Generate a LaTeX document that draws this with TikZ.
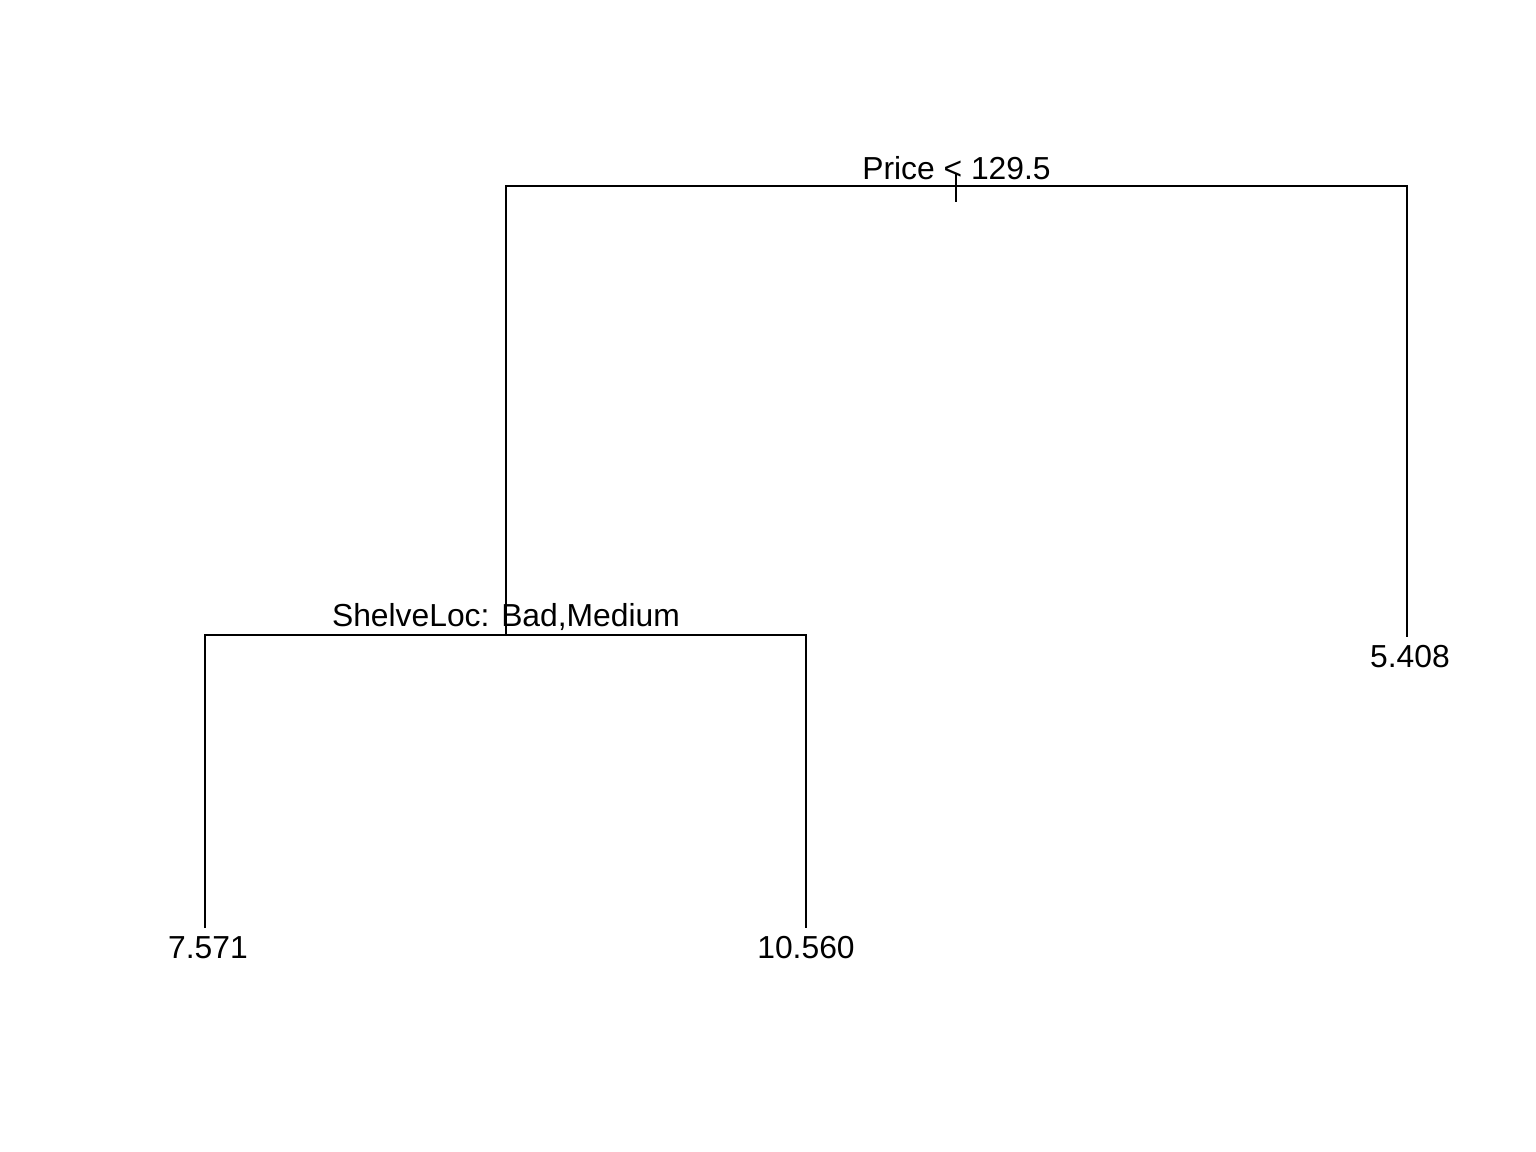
\documentclass[tikz,border=0pt]{standalone}
\usepackage{fontspec}
\setmainfont{Liberation Sans}
\usetikzlibrary{calc}

\begin{document}
\begin{tikzpicture}[x=0.01cm, y=-0.01cm,
        branch/.style={line width=0.6pt, line cap=butt},
        splitlabel/.style={anchor=base, inner sep=0pt, font=\fontsize{9.05}{11}\selectfont},
        leaflabel/.style={anchor=base, inner sep=0pt, font=\fontsize{9.05}{11}\selectfont}]

        % page frame
        \useasboundingbox (0,0) rectangle (1536,1152);

        % tree nodes
        \coordinate (root) at (956,186);
        \coordinate (shelve) at (506,635);
        \coordinate (leafbad) at (205,928);
        \coordinate (leafgood) at (806,928);
        \coordinate (leafprice) at (1407,637);

        % branches
        \draw[branch] (shelve) |- (root) -| (leafprice);
        \draw[branch] (leafbad) |- (shelve) -| (leafgood);
        \draw[branch] ($(root)+(0,-13)$) -- ($(root)+(0,16)$);

        % split labels
        \node[splitlabel] (pricesplit) at ($(root)+(0.5,-6)$) {Price < 129.5};
        \node[splitlabel] (shelvesplit) at ($(shelve)+(0,-8.5)$) {ShelveLoc: Bad,Medium};

        % leaf values
        \node[leaflabel] (valbad) at ($(leafbad)+(3,30)$) {7.571};
        \node[leaflabel] (valgood) at ($(leafgood)+(0,30)$) {10.560};
        \node[leaflabel] (valprice) at ($(leafprice)+(3,30)$) {5.408};

\end{tikzpicture}
\end{document}
